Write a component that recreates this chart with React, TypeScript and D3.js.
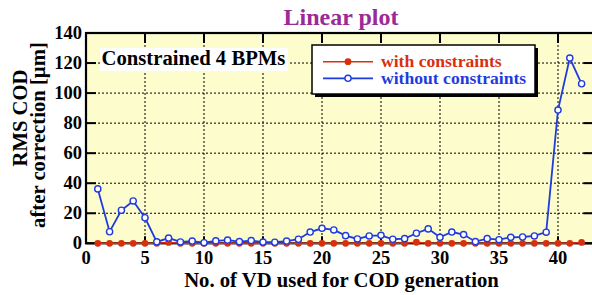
import React from "react";
import * as d3 from "d3";

const xValues = d3.range(1, 43);
const withConstraints = [0,0,0,0,0,0,0.6,0,0,0,0,0,0,0,0,0,0,0,0,0,0,0,0,0,0,0,0,0.7,0,0,0,0,0,0,0,0,0,0,0,0,0,0.6];
const withoutConstraints = [36.2,7.7,22,28.2,17,1,3.5,0.9,1.5,0.4,1.6,2.1,1.1,1.8,0.8,0.7,1.5,2.7,7.5,10,8.9,5.1,2.9,4.9,5.3,2.7,3.1,6.7,9.6,4,7.5,5.8,1.1,3.1,2.4,4,4.2,4.9,7.4,88.7,123.3,106.2];
const xTicks = [0, 5, 10, 15, 20, 25, 30, 35, 40];
const yTicks = [0, 20, 40, 60, 80, 100, 120, 140];

const RED = "#d8300f";
const BLUE = "#1f3be0";
const FONT = "Liberation Serif, Tinos, DejaVu Serif, Times New Roman, serif";

export default function App() {
  const L = 86, T = 33, B = 243.3;
  const x = d3.scaleLinear().domain([0, 43]).range([L, L + 43 * 11.8]);
  const y = d3.scaleLinear().domain([0, 140]).range([B, T]);
  const R = x(43);
  const line = d3.line<number>().x((_, i) => x(xValues[i])).y(d => y(d));

  return (
    <div style={{ position: "absolute", left: 0, top: 0 }}>
      <svg width={592} height={295} style={{ display: "block" }}>
        <rect x={0} y={0} width={592} height={295} fill="#fff" />
        <rect x={L} y={T} width={R - L} height={B - T} fill="#fcfccc" />
        {xTicks.filter(t => t > 0).map(t => (
          <line key={"gx" + t} x1={x(t)} x2={x(t)} y1={T} y2={B} stroke="#000" strokeWidth={1} strokeDasharray="2,2" />
        ))}
        {yTicks.filter(t => t > 0 && t < 140).map(t => (
          <line key={"gy" + t} x1={L} x2={R} y1={y(t)} y2={y(t)} stroke="#000" strokeWidth={1} strokeDasharray="2,2" />
        ))}
        <g fontFamily={FONT} fontWeight="bold">
          {xTicks.map(t => (
            <g key={"tx" + t}>
              <line x1={x(t)} x2={x(t)} y1={B} y2={B - 7} stroke="#000" strokeWidth={2} />
              <line x1={x(t)} x2={x(t)} y1={T} y2={T + 10} stroke="#000" strokeWidth={2} />
              <text x={x(t)} y={264} textAnchor="middle" fontSize={18.5}>{t}</text>
            </g>
          ))}
          {yTicks.map(t => (
            <g key={"ty" + t}>
              <line x1={L} x2={L + 10} y1={y(t)} y2={y(t)} stroke="#000" strokeWidth={2} />
              <line x1={R} x2={R - 10} y1={y(t)} y2={y(t)} stroke="#000" strokeWidth={2} />
              <text x={L - 4} y={y(t) + 6} textAnchor="end" fontSize={18.5}>{t}</text>
            </g>
          ))}
        </g>
        <rect x={L} y={T} width={R - L} height={B - T} fill="none" stroke="#000" strokeWidth={2.2} />

        <rect x={100} y={48} width={188} height={23} fill="#fff" />
        <text x={101.5} y={64.5} fontSize={20.7} fontFamily={FONT} fontWeight="bold">Constrained 4 BPMs</text>

        <path d={line(withConstraints) || ""} fill="none" stroke={RED} strokeWidth={1.5} />
        {withConstraints.map((v, i) => (
          <circle key={"r" + i} cx={x(xValues[i])} cy={y(v)} r={3.4} fill={RED} />
        ))}
        <path d={line(withoutConstraints) || ""} fill="none" stroke={BLUE} strokeWidth={1.8} />
        {withoutConstraints.map((v, i) => (
          <circle key={"b" + i} cx={x(xValues[i])} cy={y(v)} r={3.1} fill="#fff" stroke={BLUE} strokeWidth={1.4} />
        ))}

        <rect x={315} y={48} width={223} height={49} fill="#000" />
        <rect x={312} y={45} width={223} height={49} fill="#fff" stroke="#000" strokeWidth={1.5} />
        <line x1={323} x2={373} y1={61.7} y2={61.7} stroke={RED} strokeWidth={1.5} />
        <circle cx={348} cy={61.7} r={3.4} fill={RED} />
        <line x1={323} x2={373} y1={78.3} y2={78.3} stroke={BLUE} strokeWidth={1.8} />
        <circle cx={348} cy={78.3} r={3.1} fill="#fff" stroke={BLUE} strokeWidth={1.4} />
        <g fontFamily={FONT} fontWeight="bold">
          <text x={381} y={67} fontSize={17.6} fill={RED}>with constraints</text>
          <text x={381} y={83.5} fontSize={17.6} fill={BLUE}>without constraints</text>
          <text x={341} y={25} textAnchor="middle" fontSize={24} fill="#9a2a96">Linear plot</text>
          <text x={341.5} y={287} textAnchor="middle" fontSize={20.7}>No. of VD used for COD generation</text>
          <text transform="translate(26.5,118) rotate(-90)" textAnchor="middle" fontSize={20.7}>RMS COD</text>
          <text transform="translate(45,135) rotate(-90)" textAnchor="middle" fontSize={20.7}>after correction [µm]</text>
        </g>
      </svg>
    </div>
  );
}
